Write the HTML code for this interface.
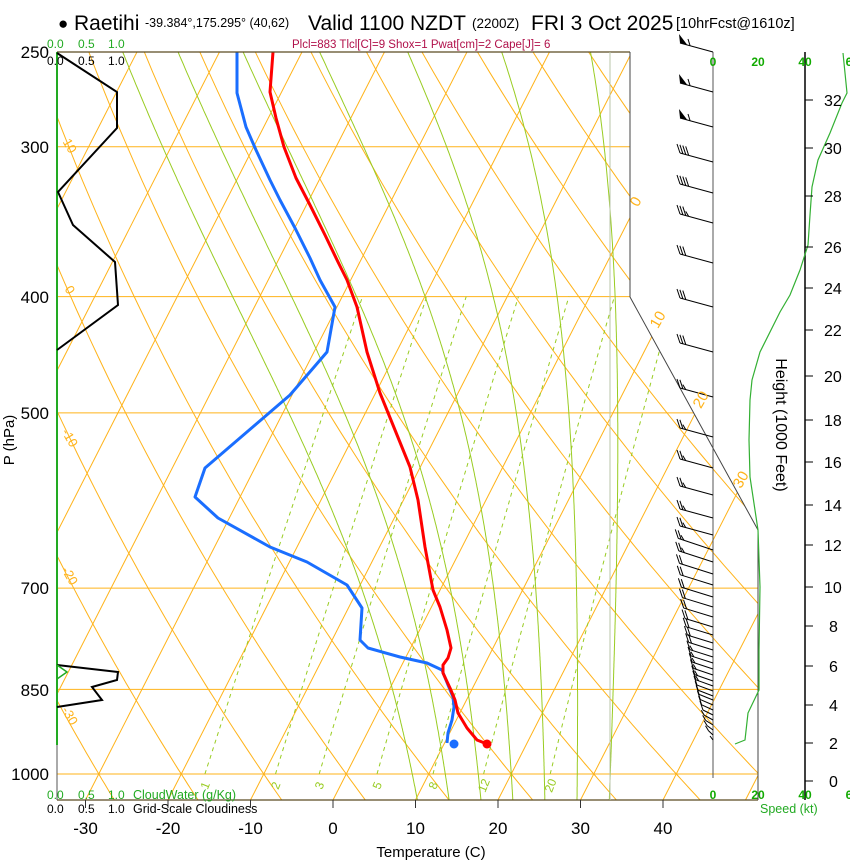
<!DOCTYPE html>
<html><head><meta charset="utf-8"><style>
html,body{margin:0;padding:0;background:#fff}
svg{display:block;font-family:"Liberation Sans",sans-serif}
</style></head><body>
<svg id="s" width="850" height="860" viewBox="0 0 850 860" xmlns="http://www.w3.org/2000/svg">
<defs><clipPath id="cp"><polygon points="57,52 630,52 630,297 758,530 758,800 57,800"/></clipPath></defs>
<g id="grid" clip-path="url(#cp)"></g>
<g id="data"></g>
<line x1="57" y1="52" x2="630" y2="52" stroke="#5a4a20" stroke-width="1.2"/>
<line x1="57" y1="800" x2="758" y2="800" stroke="#5a4a20" stroke-width="1.2"/>
<polyline points="630,52 630,297 758,530 758,800" fill="none" stroke="#444" stroke-width="1"/>
<line x1="610" y1="52" x2="610" y2="800" stroke="#b8c4a8" stroke-width="1"/>
<line x1="713" y1="52" x2="713" y2="778" stroke="#555" stroke-width="1"/>
<line x1="805" y1="52" x2="805" y2="800" stroke="#000" stroke-width="1.5"/>
<g id="barbs" stroke="#000" stroke-width="1" fill="#000"></g>
<line x1="57" y1="52" x2="57" y2="745" stroke="#22aa22" stroke-width="2"/>
<line x1="57" y1="745" x2="57" y2="800" stroke="#555" stroke-width="1"/>
<polyline points="57,53 117,92 117,128 58,192 73,225 115,262 118,305 57,350" fill="none" stroke="#000" stroke-width="2"/>
<polyline points="57,665 118,672 117,680 92,687 102,700 57,707" fill="none" stroke="#000" stroke-width="2"/>
<polyline points="57,665 67,672 57,679" fill="none" stroke="#22aa22" stroke-width="1.5"/>
<polyline points="843,53 847,93 842,103 830,133 818,160 812,187 810,215 808,245 800,270 790,295 780,312 760,352 752,380 750,400 749,440 750,477 758,530 760,587 759,650 759,690 748,713 745,740 735,744" fill="none" stroke="#33b033" stroke-width="1.2"/>
<g font-size="12" fill="#22aa22">
<text x="47" y="48">0.0</text><text x="78" y="48">0.5</text><text x="108" y="48">1.0</text>
<text x="47" y="799">0.0</text><text x="78" y="799">0.5</text><text x="108" y="799">1.0</text>
<text x="133" y="799" font-size="12.5">CloudWater (g/Kg)</text>
</g>
<g font-size="12" fill="#000">
<text x="47" y="65">0.0</text><text x="78" y="65">0.5</text><text x="108" y="65">1.0</text>
<text x="47" y="813">0.0</text><text x="78" y="813">0.5</text><text x="108" y="813">1.0</text>
<text x="133" y="813" font-size="12.5">Grid-Scale Cloudiness</text>
</g>
<g font-size="12" fill="#11aa00" font-weight="bold" text-anchor="middle">
<text x="713" y="66">0</text><text x="758" y="66">20</text><text x="805" y="66">40</text><text x="849" y="66">6</text>
<text x="713" y="799">0</text><text x="758" y="799">20</text><text x="805" y="799">40</text><text x="849" y="799">6</text>
</g>
<text x="760" y="813" font-size="12.5" fill="#22aa22">Speed (kt)</text>
<text x="58" y="29" font-size="17">●</text>
<text x="74" y="30" font-size="21">Raetihi</text>
<text x="145" y="27" font-size="12.5">-39.384°,175.295° (40,62)</text>
<text x="308" y="30" font-size="21">Valid 1100 NZDT</text>
<text x="472" y="28" font-size="13.5">(2200Z)</text>
<text x="531" y="30" font-size="21">FRI 3 Oct 2025</text>
<text x="676" y="28" font-size="14.5">[10hrFcst@1610z]</text>
<text x="292" y="48" font-size="11.5" fill="#b0104a">Plcl=883 Tlcl[C]=9 Shox=1 Pwat[cm]=2 Cape[J]= 6</text>
<g font-size="17" text-anchor="end">
<text x="49" y="58">250</text><text x="49" y="153">300</text><text x="49" y="303">400</text>
<text x="49" y="419">500</text><text x="49" y="594">700</text><text x="49" y="696">850</text><text x="49" y="780">1000</text>
</g>
<g font-size="17" text-anchor="middle" id="tlab"></g>
<text x="431" y="857" font-size="15" text-anchor="middle">Temperature (C)</text>
<text transform="translate(14,440) rotate(-90)" font-size="15" text-anchor="middle">P (hPa)</text>
<text transform="translate(776,425) rotate(90)" font-size="16" text-anchor="middle">Height (1000 Feet)</text>
<g id="hlab" font-size="16"></g>
</svg>
<script>
var NS="http://www.w3.org/2000/svg";
function el(tag,attrs,parent,txt){var e=document.createElementNS(NS,tag);for(var k in attrs)e.setAttribute(k,attrs[k]);if(txt!==undefined)e.textContent=txt;parent.appendChild(e);return e;}
function yP(p){return 774-521*Math.log(1000/p);}
function xT(T,y){return 333+8.25*T+0.51*(800-y);}
function pts(arr){return arr.map(function(a){return a[0].toFixed(1)+","+a[1].toFixed(1)}).join(" ");}
var G=document.getElementById("grid"),ORG="#ffb31a",GRN="#99cc22";
[300,400,500,700,850,1000].forEach(function(p){var y=yP(p);el("line",{x1:57,y1:y,x2:760,y2:y,stroke:ORG,"stroke-width":1},G);});
for(var T=-120;T<=50;T+=10){el("line",{x1:xT(T,800),y1:800,x2:xT(T,52),y2:52,stroke:ORG,"stroke-width":1},G);}
for(var th=-40;th<=220;th+=10){var a=[];for(var p=1060;p>=240;p-=10){var Tk=(th+273.15)*Math.pow(p/1000,0.2857)-273.15;var y=yP(p);a.push([xT(Tk,y),y]);}
el("polyline",{points:pts(a),fill:"none",stroke:ORG,"stroke-width":1},G);}
function rs(T,p){var es=6.112*Math.exp(17.67*T/(T+243.5));return 0.622*es/(p-es);}
function dTdp(T,p){var Tk=T+273.15,r=rs(T,p);return ((287*Tk+2.5e6*r)/p)/(1004+2.5e6*2.5e6*r*0.622/(287*Tk*Tk));}
for(var T0=8;T0<=32;T0+=4){var up=[],T=T0,p=1000,h=-2;while(p>=248){up.push([xT(T,yP(p)),yP(p)]);var k1=dTdp(T,p),k2=dTdp(T+h*k1,p+h);T+=h*(k1+k2)/2;p+=h;}
var dn=[];T=T0;p=1000;h=2;while(p<=1060){dn.unshift([xT(T,yP(p)),yP(p)]);var k1=dTdp(T,p),k2=dTdp(T+h*k1,p+h);T+=h*(k1+k2)/2;p+=h;}
el("polyline",{points:pts(dn.concat(up)),fill:"none",stroke:GRN,"stroke-width":1},G);}
[1,2,3,5,8,12,20].forEach(function(w){var a=[];for(var p=1000;p>=400;p-=10){var e=w/1000*p/(0.622+w/1000);var l=Math.log(e/6.112);var Td=243.5*l/(17.67-l);var y=yP(p);a.push([xT(Td,y),y]);}
el("polyline",{points:pts(a),fill:"none",stroke:GRN,"stroke-width":1,"stroke-dasharray":"4,4"},G);
var b=a[0];el("text",{x:0,y:0,"font-size":12,fill:GRN,"text-anchor":"middle",transform:"translate("+(b[0]+4).toFixed(1)+",787) rotate(-68)"},document.getElementById("s"),String(w));});
var S=document.getElementById("s");
[[0,640,204],[10,662,322],[20,705,402],[30,745,482]].forEach(function(l){el("text",{transform:"translate("+l[1]+","+l[2]+") rotate(-60)","font-size":15,fill:ORG,"text-anchor":"middle"},S,String(l[0]));});
[[10,66,148],[0,66,292],[-10,66,440],[-20,66,578],[-30,66,718]].forEach(function(l){el("text",{transform:"translate("+l[1]+","+l[2]+") rotate(60)","font-size":13,fill:ORG,"text-anchor":"middle"},S,String(l[0]));});
var TL=document.getElementById("tlab");
[-30,-20,-10,0,10,20,30,40].forEach(function(t){var x=333+8.25*t;el("line",{x1:x,y1:800,x2:x,y2:808,stroke:"#333","stroke-width":1},S);el("text",{x:x,y:834},TL,String(t));});
var HL=document.getElementById("hlab");
[[32,100],[30,148],[28,196],[26,247],[24,288],[22,330],[20,376],[18,420],[16,462],[14,505],[12,545],[10,587],[8,626],[6,666],[4,705],[2,743],[0,781]].forEach(function(h){el("line",{x1:805,y1:h[1],x2:813,y2:h[1],stroke:"#000","stroke-width":1},S);el("text",{x:(h[0]<10?829:824),y:h[1]+6},HL,String(h[0]));});
var D=document.getElementById("data");
var red=[[273,52],[270,92],[276,118],[284,147],[296,178],[310,205],[325,235],[338,262],[347,280],[357,307],[367,352],[380,393],[395,430],[410,467],[418,500],[425,547],[433,590],[440,607],[447,630],[451,648],[448,658],[443,665],[443,673],[450,688],[455,700],[458,713],[467,728],[477,740],[487,744]];
var blue=[[237,52],[237,93],[246,127],[256,150],[270,180],[280,200],[295,228],[310,258],[320,280],[335,307],[327,352],[290,395],[205,468],[195,497],[218,518],[270,547],[307,562],[347,585],[362,608],[360,640],[368,648],[400,657],[427,663],[442,670],[448,685],[453,697],[454,707],[452,720],[448,733],[447,743]];
el("polyline",{points:pts(blue),fill:"none",stroke:"#1a6eff","stroke-width":3,"stroke-linejoin":"round"},D);
el("polyline",{points:pts(red),fill:"none",stroke:"#ff0000","stroke-width":3,"stroke-linejoin":"round"},D);
el("circle",{cx:487,cy:744,r:4.5,fill:"#ff0000"},D);
el("circle",{cx:454,cy:744,r:4.5,fill:"#1a6eff"},D);
var B=document.getElementById("barbs");
var ys=[[52,5],[92,5],[127,5],[162,4],[193,4],[223,3.5],[263,3],[307,3],[352,3],[397,2.5],[437,2.5],[468,2.5],[495,2.5],[518,2.5],[535,2.5],[550,2.5],[562,2.5],[574,2],[585,2],[597,2],[607,2],[617,2],[627,2],[635,2],[643,2],[650,2],[657,1.5],[663,1.5],[669,1.5],[675,1.5],[681,1.5],[686,1.5],[691,1],[696,1],[700,1],[705,1],[710,1],[715,1],[720,0.5],[725,0.5],[730,0.5],[735,0.5],[740,0]];
ys.forEach(function(b){var y=b[0],n=b[1];var lx,ly;
if(y<540){lx=680;ly=y-9;}else{var f=(y-540)/200;lx=678+f*f*28+f*4;ly=y-12+f*8;}
el("line",{x1:713,y1:y,x2:lx,y2:ly},B);
if(n==5){el("polygon",{points:lx+","+ly+" "+(lx+7)+","+(ly+1.5)+" "+(lx-1)+","+(ly-9),stroke:"none"},B);el("line",{x1:lx+10,y1:ly+2.5,x2:lx+8,y2:ly-4},B);return;}
var dx=713-lx,dy=y-ly,L=Math.sqrt(dx*dx+dy*dy),ux=dx/L,uy=dy/L,i=0;
while(n>0){var sx=lx+ux*3*i,sy=ly+uy*3*i,len=n>=1?9:5;el("line",{x1:sx,y1:sy,x2:sx-3,y2:sy-len},B);n-=1;i++;}
});
</script>
</body></html>
